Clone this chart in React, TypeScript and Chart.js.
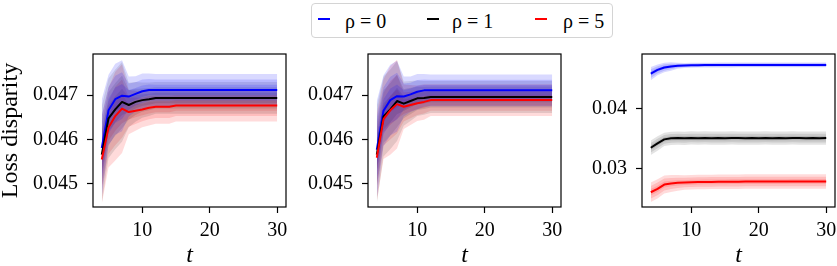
import React, { useEffect, useRef } from "react";
import { Chart, registerables } from "chart.js";

Chart.register(...registerables);

// ---------------- data ----------------
const T = [4, 5, 6, 7, 8, 9, 10, 11, 12, 13, 14, 15, 16, 17, 18, 19, 20, 21, 22, 23, 24, 25, 26, 27, 28, 29, 30];

const SERIES_LABELS = ["ρ = 0", "ρ = 1", "ρ = 5"];

// Panel A (left)
const BLUE_A = [0.04581, 0.04666, 0.04691, 0.04699, 0.04697, 0.04703, 0.04709, 0.04712, 0.04712, 0.04712, 0.04712, 0.04712, 0.04712, 0.04712, 0.04712, 0.04712, 0.04712, 0.04712, 0.04712, 0.04712, 0.04712, 0.04712, 0.04712, 0.04712, 0.04712, 0.04712, 0.04712];
const BLACK_A = [0.04566, 0.04648, 0.04668, 0.04685, 0.04678, 0.04685, 0.04689, 0.04691, 0.04694, 0.04694, 0.04694, 0.04694, 0.04694, 0.04694, 0.04694, 0.04694, 0.04694, 0.04694, 0.04694, 0.04694, 0.04694, 0.04694, 0.04694, 0.04694, 0.04694, 0.04694, 0.04694];
const RED_A = [0.04555, 0.04627, 0.04653, 0.0467, 0.04662, 0.04665, 0.04668, 0.04672, 0.04674, 0.04674, 0.04674, 0.04677, 0.04677, 0.04677, 0.04677, 0.04677, 0.04677, 0.04677, 0.04677, 0.04677, 0.04677, 0.04677, 0.04677, 0.04677, 0.04677, 0.04677, 0.04677];
const BLUE_A_SPREAD = [0.0011, 0.0008, 0.0008, 0.0008, 0.00045, 0.0004, 0.0004, 0.00037, 0.00036, 0.00036, 0.00036, 0.00036, 0.00036, 0.00036, 0.00036, 0.00036, 0.00036, 0.00036, 0.00036, 0.00036, 0.00036, 0.00036, 0.00036, 0.00036, 0.00036, 0.00036, 0.00036];
const BLACK_A_SPREAD = [0.0011, 0.0009, 0.0009, 0.0009, 0.0005, 0.00045, 0.0004, 0.00038, 0.00036, 0.00036, 0.00036, 0.00036, 0.00036, 0.00036, 0.00036, 0.00036, 0.00036, 0.00036, 0.00036, 0.00036, 0.00036, 0.00036, 0.00036, 0.00036, 0.00036, 0.00036, 0.00036];
const RED_A_SPREAD = [0.001, 0.0009, 0.001, 0.001, 0.0005, 0.00045, 0.0004, 0.0004, 0.00038, 0.00038, 0.00038, 0.00036, 0.00036, 0.00036, 0.00036, 0.00036, 0.00036, 0.00036, 0.00036, 0.00036, 0.00036, 0.00036, 0.00036, 0.00036, 0.00036, 0.00036, 0.00036];

// Panel B (middle)
const BLUE_B = [0.04577, 0.04665, 0.04689, 0.04698, 0.04697, 0.04702, 0.04708, 0.04711, 0.04711, 0.04711, 0.04711, 0.04711, 0.04711, 0.04711, 0.04711, 0.04711, 0.04711, 0.04711, 0.04711, 0.04711, 0.04711, 0.04711, 0.04711, 0.04711, 0.04711, 0.04711, 0.04711];
const BLACK_B = [0.04566, 0.04652, 0.04668, 0.04687, 0.04681, 0.04687, 0.04693, 0.04694, 0.04696, 0.04696, 0.04696, 0.04696, 0.04696, 0.04696, 0.04696, 0.04696, 0.04696, 0.04696, 0.04696, 0.04696, 0.04696, 0.04696, 0.04696, 0.04696, 0.04696, 0.04696, 0.04696];
const RED_B = [0.04559, 0.04646, 0.04666, 0.0468, 0.04674, 0.04678, 0.04682, 0.04685, 0.04689, 0.04689, 0.04689, 0.04689, 0.04689, 0.04689, 0.04689, 0.04689, 0.04689, 0.04689, 0.04689, 0.04689, 0.04689, 0.04689, 0.04689, 0.04689, 0.04689, 0.04689, 0.04689];
const BLUE_B_SPREAD = [0.0011, 0.0008, 0.0008, 0.0008, 0.00045, 0.0004, 0.0004, 0.00037, 0.00036, 0.00036, 0.00036, 0.00036, 0.00036, 0.00036, 0.00036, 0.00036, 0.00036, 0.00036, 0.00036, 0.00036, 0.00036, 0.00036, 0.00036, 0.00036, 0.00036, 0.00036, 0.00036];
const BLACK_B_SPREAD = [0.0011, 0.0009, 0.0009, 0.0009, 0.0005, 0.00045, 0.0004, 0.00038, 0.00036, 0.00036, 0.00036, 0.00036, 0.00036, 0.00036, 0.00036, 0.00036, 0.00036, 0.00036, 0.00036, 0.00036, 0.00036, 0.00036, 0.00036, 0.00036, 0.00036, 0.00036, 0.00036];
const RED_B_SPREAD = [0.001, 0.0009, 0.001, 0.001, 0.0005, 0.00045, 0.0004, 0.0004, 0.00036, 0.00036, 0.00036, 0.00036, 0.00036, 0.00036, 0.00036, 0.00036, 0.00036, 0.00036, 0.00036, 0.00036, 0.00036, 0.00036, 0.00036, 0.00036, 0.00036, 0.00036, 0.00036];

// Panel C (right)
const BLUE_C = [0.04583, 0.04644, 0.04683, 0.047, 0.04711, 0.04716, 0.0472, 0.04722, 0.04723, 0.04723, 0.04724, 0.04724, 0.04724, 0.04725, 0.04725, 0.04725, 0.04725, 0.04725, 0.04725, 0.04725, 0.04725, 0.04725, 0.04725, 0.04725, 0.04725, 0.04725, 0.04725];
const BLACK_C = [0.0335, 0.03422, 0.03489, 0.03506, 0.03511, 0.03507, 0.03512, 0.03508, 0.03512, 0.03509, 0.03511, 0.03508, 0.03512, 0.0351, 0.03508, 0.03511, 0.03509, 0.03512, 0.03508, 0.03511, 0.03509, 0.03512, 0.0351, 0.03508, 0.03511, 0.03509, 0.03511];
const RED_C = [0.02611, 0.02667, 0.02739, 0.02756, 0.02767, 0.02772, 0.02777, 0.0278, 0.02782, 0.02783, 0.02784, 0.02785, 0.02786, 0.02787, 0.02788, 0.02788, 0.02788, 0.02789, 0.02789, 0.02789, 0.02789, 0.0279, 0.0279, 0.0279, 0.0279, 0.0279, 0.0279];
const BLUE_C_SPREAD = [0.0011, 0.0009, 0.0008, 0.0007, 0.0005, 0.0004, 0.0004, 0.0004, 0.0004, 0.0004, 0.0004, 0.0004, 0.0004, 0.0004, 0.0004, 0.0004, 0.0004, 0.0004, 0.0004, 0.0004, 0.0004, 0.0004, 0.0004, 0.0004, 0.0004, 0.0004, 0.0004];
const BLACK_C_SPREAD = [0.0012, 0.0012, 0.0011, 0.0011, 0.0011, 0.0011, 0.0011, 0.0011, 0.0011, 0.0011, 0.0011, 0.0011, 0.0011, 0.0011, 0.0011, 0.0011, 0.0011, 0.0011, 0.0011, 0.0011, 0.0011, 0.0011, 0.0011, 0.0011, 0.0011, 0.0011, 0.0011];
const RED_C_SPREAD = [0.0016, 0.0016, 0.0015, 0.0014, 0.0013, 0.0012, 0.0012, 0.0012, 0.0012, 0.0012, 0.0012, 0.0012, 0.0012, 0.0012, 0.0012, 0.0012, 0.0012, 0.0012, 0.0012, 0.0012, 0.0012, 0.0012, 0.0012, 0.0012, 0.0012, 0.0012, 0.0012];

const Y_TICKS_AB = [0.045, 0.046, 0.047];
const Y_TICKS_C = [0.03, 0.04];
const X_TICKS = [10, 20, 30];

// ---------------- styling ----------------
const FONT = "'Liberation Serif', 'Times New Roman', serif";
const COLORS = ["#0000ff", "#000000", "#ff0000"];
const BAND_COLORS = ["rgba(0,0,255,0.15)", "rgba(0,0,0,0.11)", "rgba(255,0,0,0.14)"];
const LAYERS = [1, 0.66, 0.33];

type PanelSpec = {
  left: number;
  width: number;
  yWidth: number;
  padRight: number;
  means: number[][];
  spreads: number[][];
  yMin: number;
  yMax: number;
  yTicks: number[];
  decimals: number;
  yTitle?: string;
};

const PANELS: PanelSpec[] = [
  {
    left: 0, width: 290, yWidth: 93, padRight: 4,
    means: [BLUE_A, BLACK_A, RED_A], spreads: [BLUE_A_SPREAD, BLACK_A_SPREAD, RED_A_SPREAD],
    yMin: 0.04448, yMax: 0.04793, yTicks: Y_TICKS_AB, decimals: 3, yTitle: "Loss disparity",
  },
  {
    left: 290, width: 275, yWidth: 78, padRight: 4,
    means: [BLUE_B, BLACK_B, RED_B], spreads: [BLUE_B_SPREAD, BLACK_B_SPREAD, RED_B_SPREAD],
    yMin: 0.04448, yMax: 0.04793, yTicks: Y_TICKS_AB, decimals: 3,
  },
  {
    left: 565, width: 272, yWidth: 77, padRight: 2,
    means: [BLUE_C, BLACK_C, RED_C], spreads: [BLUE_C_SPREAD, BLACK_C_SPREAD, RED_C_SPREAD],
    yMin: 0.02366, yMax: 0.04907, yTicks: Y_TICKS_C, decimals: 2,
  },
];

const H = 266;
const TOP = 54;
const BOTTOM = 207;

const framePlugin = {
  id: "frame",
  afterDraw(chart: any) {
    const { ctx, chartArea } = chart;
    ctx.save();
    ctx.strokeStyle = "#000";
    ctx.lineWidth = 1.2;
    ctx.strokeRect(chartArea.left, chartArea.top, chartArea.right - chartArea.left, chartArea.bottom - chartArea.top);
    ctx.restore();
  },
};

function buildConfig(p: PanelSpec): any {
  const datasets: any[] = [];
  p.means.forEach((mean, si) => {
    const spread = p.spreads[si];
    LAYERS.forEach((f) => {
      datasets.push({
        data: T.map((t, i) => ({ x: t, y: mean[i] + f * spread[i] })),
        fill: "+1",
        backgroundColor: BAND_COLORS[si],
        borderWidth: 0,
        pointRadius: 0,
        order: 10,
      });
      datasets.push({
        data: T.map((t, i) => ({ x: t, y: mean[i] - f * spread[i] })),
        fill: false,
        borderWidth: 0,
        pointRadius: 0,
        order: 10,
      });
    });
  });
  p.means.forEach((mean, si) => {
    datasets.push({
      label: SERIES_LABELS[si],
      data: T.map((t, i) => ({ x: t, y: mean[i] })),
      borderColor: COLORS[si],
      borderWidth: 2,
      borderJoinStyle: "round",
      fill: false,
      pointRadius: 0,
      order: 3 - si,
    });
  });

  const tickFont = { family: FONT, size: 20 };
  return {
    type: "line",
    data: { datasets },
    plugins: [framePlugin],
    options: {
      animation: false,
      responsive: false,
      devicePixelRatio: 1,
      layout: { padding: { left: 0, top: TOP, right: p.padRight, bottom: 0 } },
      plugins: { legend: { display: false }, tooltip: { enabled: false } },
      elements: { line: { tension: 0 } },
      scales: {
        x: {
          type: "linear",
          min: 2.7,
          max: 31.3,
          afterBuildTicks: (s: any) => { s.ticks = X_TICKS.map((v) => ({ value: v })); },
          afterFit: (s: any) => { s.height = H - BOTTOM; s.paddingLeft = 0; s.paddingRight = 0; },
          ticks: { font: tickFont, color: "#000", padding: 6, maxRotation: 0, autoSkip: false, callback: (v: any) => String(v) },
          grid: { display: true, drawOnChartArea: false, drawTicks: true, tickLength: 6, tickColor: "#000", tickWidth: 1.2 },
          border: { display: false },
          title: {
            display: true, text: "t", color: "#000",
            font: { family: FONT, size: 24, style: "italic", lineHeight: 1 },
            padding: { top: 0, bottom: -2 },
          },
        },
        y: {
          type: "linear",
          min: p.yMin,
          max: p.yMax,
          afterBuildTicks: (s: any) => { s.ticks = p.yTicks.map((v) => ({ value: v })); },
          afterFit: (s: any) => { s.width = p.yWidth; s.paddingTop = 0; s.paddingBottom = 0; },
          ticks: { font: tickFont, color: "#000", padding: 9, callback: (v: any) => Number(v).toFixed(p.decimals) },
          grid: { display: true, drawOnChartArea: false, drawTicks: true, tickLength: 6, tickColor: "#000", tickWidth: 1.2 },
          border: { display: false },
          title: {
            display: !!p.yTitle, text: p.yTitle || "", color: "#000",
            font: { family: FONT, size: 24, lineHeight: 1 },
            padding: { top: -1, bottom: 0 },
          },
        },
      },
    },
  };
}

function Panel({ spec }: { spec: PanelSpec }) {
  const ref = useRef<HTMLCanvasElement | null>(null);
  useEffect(() => {
    if (!ref.current) return;
    const chart = new Chart(ref.current, buildConfig(spec));
    return () => chart.destroy();
  }, [spec]);
  return (
    <canvas
      ref={ref}
      width={spec.width}
      height={H}
      style={{ position: "absolute", left: spec.left, top: 0, width: spec.width, height: H }}
    />
  );
}

const LEGEND_ITEMS = [
  { swatch: 6, text: 33 },
  { swatch: 115, text: 140 },
  { swatch: 223, text: 251 },
];

function Legend() {
  return (
    <div
      style={{
        position: "absolute", left: 311, top: 3, width: 300, height: 33,
        border: "1px solid #d4d4d4", borderRadius: 4, background: "#fff",
        fontFamily: "'Liberation Serif', serif", fontSize: 20, color: "#000",
      }}
    >
      {LEGEND_ITEMS.map((it, i) => (
        <React.Fragment key={i}>
          <div style={{ position: "absolute", left: it.swatch, top: 14, width: 12, height: 2, background: COLORS[i] }} />
          <span style={{ position: "absolute", left: it.text, top: 4, lineHeight: "26px", whiteSpace: "nowrap" }}>
            {SERIES_LABELS[i]}
          </span>
        </React.Fragment>
      ))}
    </div>
  );
}

export default function App() {
  return (
    <div style={{ position: "absolute", left: 0, top: 0, width: 837, height: H, background: "#fff", overflow: "hidden" }}>
      {PANELS.map((p, i) => (
        <Panel key={i} spec={p} />
      ))}
      <Legend />
    </div>
  );
}
